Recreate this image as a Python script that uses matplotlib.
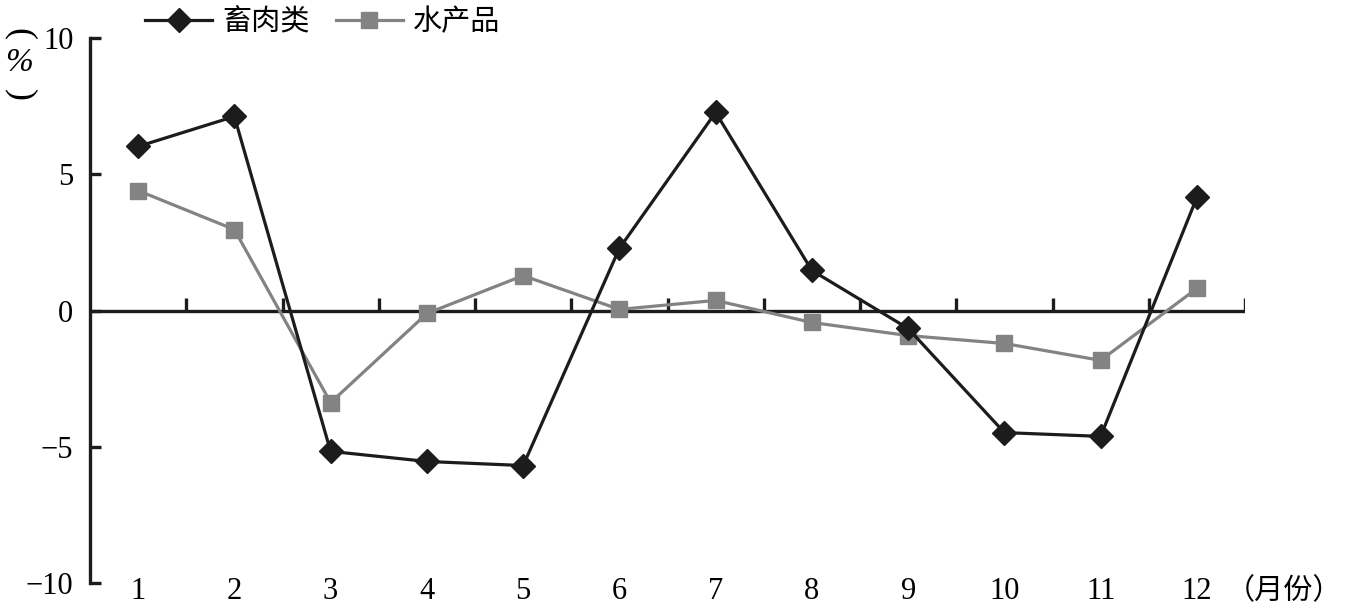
import matplotlib
matplotlib.use("Agg")
import matplotlib.pyplot as plt
import numpy as np

months = ["1", "2", "3", "4", "5", "6", "7", "8", "9", "10", "11", "12"]
meat = [6.02, 7.12, -5.17, -5.54, -5.69, 2.28, 7.27, 1.47, -0.66, -4.48, -4.62, 4.15]
aquatic = [4.40, 2.97, -3.38, -0.11, 1.28, 0.04, 0.37, -0.44, -0.92, -1.21, -1.83, 0.81]
series_names = ["畜肉类", "水产品"]
y_ticks = [-10, -5, 0, 5, 10]
y_tick_labels = ["−10", "−5", "0", "5", "10"]

W, H = 1355, 613
fig = plt.figure(figsize=(W / 100, H / 100), dpi=100)
ax = fig.add_axes([90 / W, 1 - 583 / H, (1245 - 90) / W, (583 - 38) / H])

x = np.arange(1, len(months) + 1)
black = "#1c1c1c"
gray = "#838383"
ax.plot(x, aquatic, color=gray, lw=2.3, marker="s", ms=11, mfc=gray, mec=gray,
        label=series_names[1], zorder=3)
ax.plot(x, meat, color=black, lw=2.3, marker="D", ms=12, mfc=black, mec=black,
        label=series_names[0], zorder=4)

ax.set_xlim(0.5, len(months) + 0.5)
ax.set_ylim(-10, 10)

# zero axis line with upward ticks at category boundaries
ax.axhline(0, color=black, lw=2.4, zorder=2)
bounds = np.arange(1.5, len(months) + 1.0, 1.0)
ax.vlines(bounds, 0, 0.45, color=black, lw=2.4, zorder=2)

for s in ["top", "right", "bottom"]:
    ax.spines[s].set_visible(False)
ax.spines["left"].set_linewidth(2.4)
ax.spines["left"].set_color(black)

ax.set_yticks(y_ticks)
ax.set_yticklabels(y_tick_labels, family="Liberation Serif", fontsize=22)
ax.tick_params(axis="y", direction="in", length=8, width=2.4, color=black, pad=12)

ax.set_xticks(x)
ax.set_xticklabels(months, family="Liberation Serif", fontsize=22)
ax.tick_params(axis="x", length=0, pad=-4)

# x-axis unit
fig.text(1226 / W, 1 - 591 / H, "（月份）", family="Noto Sans CJK SC", fontsize=21,
         ha="left", va="center")
# y-axis unit (vertical)
fig.text(20 / W, 1 - 34 / H, "(", family="Liberation Serif", fontsize=26,
         rotation=-90, ha="center", va="center")
fig.text(19 / W, 1 - 63 / H, "%", family="Liberation Serif", fontsize=24,
         style="italic", ha="center", va="center")
fig.text(20 / W, 1 - 95 / H, ")", family="Liberation Serif", fontsize=26,
         rotation=-90, ha="center", va="center")

handles, labels = ax.get_legend_handles_labels()
leg = fig.legend(handles[::-1], labels[::-1], loc="center left",
                 bbox_to_anchor=(145 / W, 1 - 22 / H), ncol=2, frameon=False,
                 prop={"family": "Noto Sans CJK SC", "size": 21},
                 handlelength=2.3, handletextpad=0.35, columnspacing=0.9,
                 borderaxespad=0, borderpad=0)

fig.savefig("out.png", dpi=100)
